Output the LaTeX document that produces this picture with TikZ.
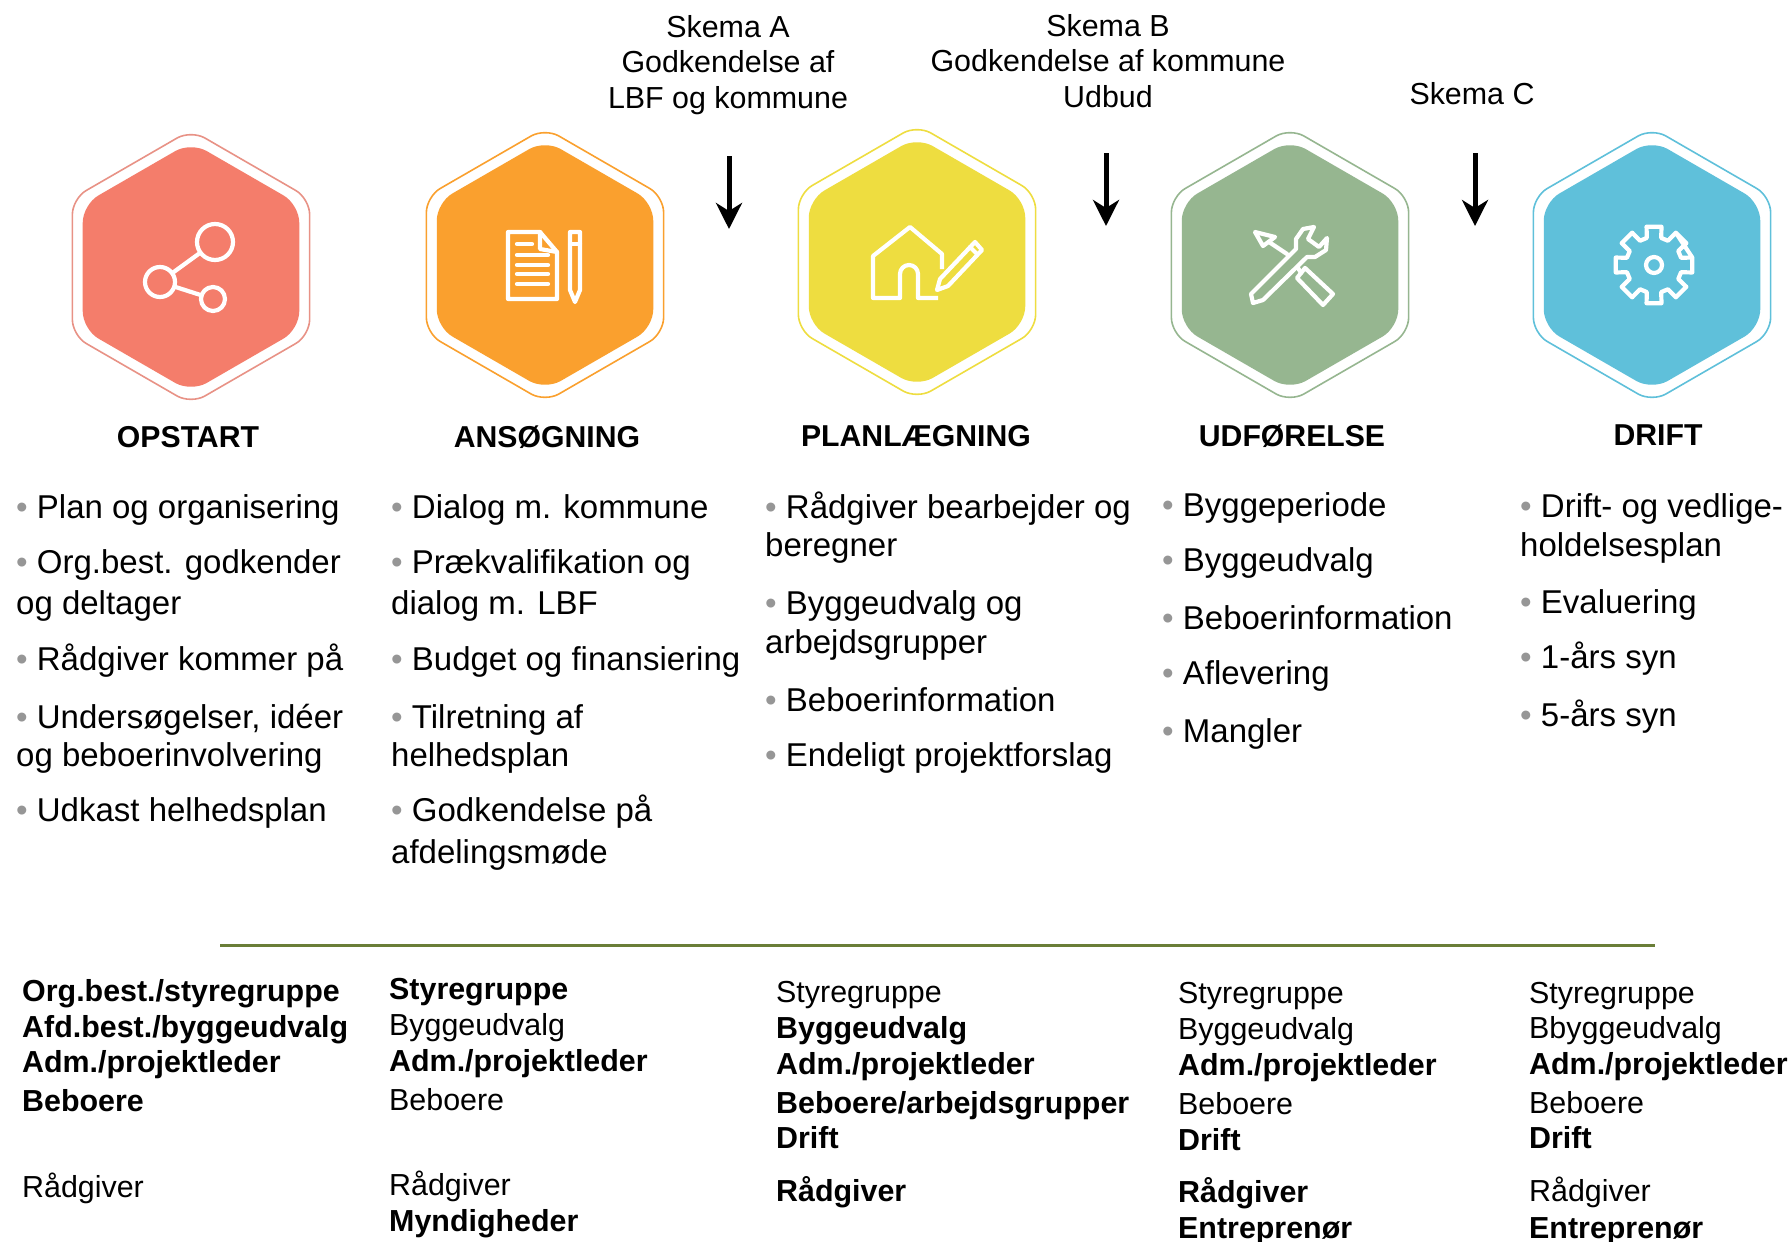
\documentclass[tikz,border=0pt]{standalone}
\usepackage{fontspec}
\setmainfont{Liberation Sans}
\usetikzlibrary{arrows.meta, positioning, shapes.geometric}
\definecolor{redhex}{RGB}{244,125,107}
\definecolor{redrim}{RGB}{232,146,134}
\definecolor{orangehex}{RGB}{250,160,46}
\definecolor{yellowhex}{RGB}{238,221,64}
\definecolor{greenhex}{RGB}{150,182,144}
\definecolor{bluehex}{RGB}{95,192,218}
\definecolor{bulletgray}{RGB}{150,150,150}
\definecolor{ruleolive}{RGB}{106,126,56}
\newcommand{\bul}{\textcolor{bulletgray}{•} }
\tikzset{
    hexrim/.style={regular polygon, regular polygon sides=6, shape border rotate=30, minimum size=274pt, inner sep=0pt, rounded corners=16pt, line width=1.6pt, fill=white},
    hexcore/.style={regular polygon, regular polygon sides=6, shape border rotate=30, minimum size=250pt, inner sep=0pt, rounded corners=18pt, draw=none},
    icon/.style={draw=white, line width=4.2pt, line join=round, line cap=round},
    headtext/.style={font=\fontsize{30.2}{36}\selectfont\bfseries, anchor=base},
    toptext/.style={font=\fontsize{30.4}{35.5}\selectfont, align=center, anchor=base},
    itemtext/.style={font=\fontsize{33}{39}\selectfont, align=left, anchor=base west, inner sep=0pt},
    roletext/.style={font=\fontsize{30.4}{36}\selectfont, anchor=base west, inner sep=0pt},
    skemaarrow/.style={-{Stealth[length=26pt, width=26pt, inset=8pt]}, line width=5pt}
}

\begin{document}
\begin{tikzpicture}[x=1pt, y=-1pt]
    \useasboundingbox (0,0) rectangle (1791,1242);

    % Hexagons
    \foreach \nm/\xx/\yy/\rim/\core in {opstart/191/267/redrim/redhex, ansoegning/545/265/orangehex/orangehex, planlaegning/917/262/yellowhex/yellowhex, udfoerelse/1290/265/greenhex/greenhex, drift/1652/265/bluehex/bluehex} {
        \node[hexrim, draw=\rim] (\nm) at (\xx,\yy) {};
        \node[hexcore, fill=\core] (\nm-core) at (\nm.center) {};
    }

    % Icons
    \begin{scope}[shift={(opstart.center)}]
        \draw[icon] (24,-25) -- (-31,15) -- (22,32);
        \draw[icon, fill=redhex] (24,-25) circle (18);
        \draw[icon, fill=redhex] (-31,15) circle (15);
        \draw[icon, fill=redhex] (22,32) circle (12);
    \end{scope}
    \begin{scope}[shift={(ansoegning.center)}]
        \draw[icon] (-37,-33) -- (-5,-33) -- (12,-13) -- (12,34) -- (-37,34) -- cycle;
        \draw[icon] (-5,-33) -- (-5,-16) -- (12,-13);
        \draw[icon] (-28,-21) -- (-13,-21);
        \foreach \yy in {-10,0,9,19} {
            \draw[icon] (-28,\yy) -- (3,\yy);
        }
        \draw[icon] (25,-33) -- (35,-33) -- (35,25) -- (30,37) -- (25,25) -- cycle;
        \draw[icon] (25,-21) -- (35,-21);
    \end{scope}
    \begin{scope}[shift={(planlaegning.center)}]
        \draw[icon, line cap=butt] (25,7) -- (25,-8) -- (-7,-35) -- (-44,-6) -- (-44,36) -- (-17,36) -- (-17,12) arc (180:360:9) -- (1,36) -- (21,36);
        \draw[icon] (20,28) -- (23,17) -- (58,-20) -- (65,-12) -- (31,24) -- cycle;
        \draw[icon] (53,-15) -- (60,-8);
    \end{scope}
    \begin{scope}[shift={(udfoerelse.center)}]
        \draw[icon] (-39,29) -- (6,-16) -- (6,-26) -- (13,-36) -- (24,-38) -- (18,-26) -- (29,-18) -- (37,-27) -- (36,-15) -- (25,-8) -- (17,-8) -- (-27,35) -- (-37,38) -- cycle;
        \draw[icon] (-35,-33) -- (-15,-28) -- (-27,-19) -- cycle;
        \draw[icon] (-21,-23) -- (-3,-11);
        \draw[icon] (8,3) -- (11,8);
        \draw[icon] (7,13) -- (15,3) -- (43,29) -- (33,40) -- cycle;
    \end{scope}
    \begin{scope}[shift={([xshift=2pt]drift.center)}]
        \draw[icon] \foreach \ang in {0,45,...,315} { (\ang-11:39) -- (\ang+11:39) -- (\ang+15:28) -- (\ang+30:28) -- (\ang+34:39) } -- cycle;
        \draw[icon] (0,0) circle (8);
    \end{scope}

    % Schemes
    \node[toptext] (skemaA) at (728,108) {Skema A\\Godkendelse af\\LBF og kommune};
    \node[toptext] (skemaB) at (1108,107) {Skema B\\Godkendelse af kommune\\Udbud};
    \node[toptext] (skemaC) at (1472,104) {Skema C};
    \coordinate (arrA1) at (729,156);
    \coordinate (arrA2) at (729,229);
    \coordinate (arrB1) at (1106,153);
    \coordinate (arrB2) at (1106,226);
    \coordinate (arrC1) at (1475,153);
    \coordinate (arrC2) at (1475,226);
    \draw[skemaarrow] (arrA1) -- (arrA2);
    \draw[skemaarrow] (arrB1) -- (arrB2);
    \draw[skemaarrow] (arrC1) -- (arrC2);

    % Headings
    \node[headtext] (headA) at (188,447) {OPSTART};
    \node[headtext] (headB) at (547,447) {ANSØGNING};
    \node[headtext] (headC) at (916,446) {PLANLÆGNING};
    \node[headtext] (headD) at (1292,446) {UDFØRELSE};
    \node[headtext] (headE) at (1658,445) {DRIFT};

    % Activities
    \foreach \yy/\txt [count=\i] in {518/{\bul Plan og organisering}, 614.5/{\bul Org.best. godkender\\[2.3pt]og deltager}, 670/{\bul Rådgiver kommer på}, 766/{\bul Undersøgelser, idéer\\[-1pt]og beboerinvolvering}, 821/{\bul Udkast helhedsplan}} {
        \node[itemtext] (itemA\i) at (16,\yy) {\txt};
    }
    \foreach \yy/\txt [count=\i] in {518/{\bul Dialog m. kommune}, 614.5/{\bul Prækvalifikation og\\[2.3pt]dialog m. LBF}, 670/{\bul Budget og finansiering}, 766/{\bul Tilretning af\\[-1pt]helhedsplan}, 863/{\bul Godkendelse på\\[2.5pt]afdelingsmøde}} {
        \node[itemtext] (itemB\i) at (391,\yy) {\txt};
    }
    \foreach \yy/\txt [count=\i] in {556/{\bul Rådgiver bearbejder og\\[-1pt]beregner}, 653/{\bul Byggeudvalg og\\arbejdsgrupper}, 711/{\bul Beboerinformation}, 766/{\bul Endeligt projektforslag}} {
        \node[itemtext] (itemC\i) at (765,\yy) {\txt};
    }
    \foreach \yy/\txt [count=\i] in {516/{\bul Byggeperiode}, 571/{\bul Byggeudvalg}, 629/{\bul Beboerinformation}, 684/{\bul Aflevering}, 742/{\bul Mangler}} {
        \node[itemtext] (itemD\i) at (1162,\yy) {\txt};
    }
    \foreach \yy/\txt [count=\i] in {556/{\bul Drift- og vedlige-\\holdelsesplan}, 613/{\bul Evaluering}, 668/{\bul 1-års syn}, 726/{\bul 5-års syn}} {
        \node[itemtext] (itemE\i) at (1520,\yy) {\txt};
    }

    % Divider
    \coordinate (ruleL) at (220,945);
    \coordinate (ruleR) at (1655,945);
    \draw[ruleolive, line width=3pt] (ruleL) -- (ruleR);

    % Roles
    \foreach \yy/\txt [count=\i] in {1001/{\textbf{Org.best./styregruppe}}, 1037/{\textbf{Afd.best./byggeudvalg}}, 1072/{\textbf{Adm./projektleder}}, 1111/{\textbf{Beboere}}, 1197/{Rådgiver}} {
        \node[roletext] (roleA\i) at (22,\yy) {\txt};
    }
    \foreach \yy/\txt [count=\i] in {999/{\textbf{Styregruppe}}, 1035/{Byggeudvalg}, 1071/{\textbf{Adm./projektleder}}, 1110/{Beboere}, 1195/{Rådgiver}, 1231/{\textbf{Myndigheder}}} {
        \node[roletext] (roleB\i) at (389,\yy) {\txt};
    }
    \foreach \yy/\txt [count=\i] in {1002/{Styregruppe}, 1038/{\textbf{Byggeudvalg}}, 1074/{\textbf{Adm./projektleder}}, 1113/{\textbf{Beboere/arbejdsgrupper}}, 1148/{\textbf{Drift}}, 1201/{\textbf{Rådgiver}}} {
        \node[roletext] (roleC\i) at (776,\yy) {\txt};
    }
    \foreach \yy/\txt [count=\i] in {1003/{Styregruppe}, 1039/{Byggeudvalg}, 1075/{\textbf{Adm./projektleder}}, 1114/{Beboere}, 1150/{\textbf{Drift}}, 1202/{\textbf{Rådgiver}}, 1238/{\textbf{Entreprenør}}} {
        \node[roletext] (roleD\i) at (1178,\yy) {\txt};
    }
    \foreach \yy/\txt [count=\i] in {1003/{Styregruppe}, 1038/{Bbyggeudvalg}, 1074/{\textbf{Adm./projektleder}}, 1113/{Beboere}, 1148/{\textbf{Drift}}, 1201/{Rådgiver}, 1238/{\textbf{Entreprenør}}} {
        \node[roletext] (roleE\i) at (1529,\yy) {\txt};
    }
\end{tikzpicture}
\end{document}
